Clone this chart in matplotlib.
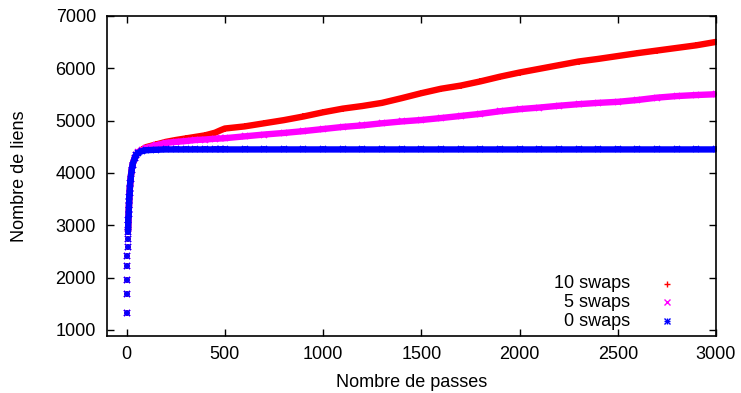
import numpy as np
import matplotlib
matplotlib.use("Agg")
import matplotlib.pyplot as plt

plt.rcParams['font.family'] = ['Liberation Sans', 'DejaVu Sans']

passes = [0, 1, 2, 3, 4, 5, 6, 7, 8, 9, 10, 11, 12, 13, 14, 15, 16, 18, 20, 25, 30, 40, 50, 60, 80,
          100, 150, 200, 250, 300, 350, 400, 450, 480, 500, 600, 700, 800, 900, 1000,
          1100, 1200, 1300, 1400, 1500, 1600, 1700, 1800, 1900, 2000,
          2100, 2200, 2300, 2400, 2500, 2600, 2700, 2800, 2900, 3000]

start = [1320, 1690, 1960, 2230, 2420, 2590, 2740, 2880, 3000, 3110, 3210, 3300, 3390, 3470, 3550,
         3620, 3690, 3800, 3890, 4050, 4160, 4280, 4350, 4390]

swaps10 = start[:-1] + [4400, 4450,
           4495, 4545, 4595, 4630, 4660, 4690, 4720, 4770, 4820, 4850, 4890, 4950, 5010, 5080, 5160,
           5230, 5280, 5340, 5430, 5525, 5610, 5670, 5750, 5840, 5920,
           5990, 6060, 6130, 6180, 6235, 6290, 6340, 6390, 6440, 6505]
swaps5 = start[:-1] + [4400, 4440,
          4480, 4530, 4575, 4595, 4610, 4630, 4640, 4655, 4660, 4665, 4700, 4735, 4765, 4800, 4840,
          4880, 4910, 4950, 4985, 5013, 5050, 5090, 5130, 5180, 5220,
          5250, 5285, 5315, 5340, 5360, 5395, 5440, 5470, 5490, 5505]
swaps0 = start + [4420,
          4435, 4445, 4450, 4450, 4450, 4450, 4450, 4450, 4450, 4450, 4450, 4450, 4450, 4450, 4450,
          4450, 4450, 4450, 4450, 4450, 4450, 4450, 4450, 4450, 4450,
          4450, 4450, 4450, 4450, 4450, 4450, 4450, 4450, 4450, 4450]

labels = ["10 swaps", "5 swaps", "0 swaps"]
colors = ["#ff0000", "#ff00ff", "#0000ff"]
markers = ["+", "x", "+"]

fig = plt.figure(figsize=(7.41, 3.93), dpi=100)
ax = fig.add_axes([0.1444, 0.145, 0.8219, 0.8143])

x = np.array(passes)
for vals, c, m in zip([swaps10, swaps5, swaps0], colors, markers):
    y = np.array(vals)
    # dense band after the first few passes
    ax.plot(x[7:], y[7:], "-", color=c, lw=4.6, solid_capstyle="round")
    ax.plot(x, y, m, color=c, ms=5, mew=1.2, linestyle="none")
    if c == "#0000ff":
        ax.plot(x, y, "x", color=c, ms=5, mew=1.2, linestyle="none")

ax.set_xlim(-100, 3000)
ax.set_ylim(885, 7000)
ax.set_xticks([0, 500, 1000, 1500, 2000, 2500, 3000])
ax.set_yticks([1000, 2000, 3000, 4000, 5000, 6000, 7000])
ax.tick_params(direction="in", length=5, width=1, top=True, right=True, labelsize=13)
ax.tick_params(axis="x", pad=7)
ax.tick_params(axis="y", pad=8)
for s in ax.spines.values():
    s.set_linewidth(1.2)
ax.set_xlabel("Nombre de passes", fontsize=13, labelpad=8)
ax.set_ylabel("Nombre de liens", fontsize=13, labelpad=20)

# legend, gnuplot style: text right aligned, sample on the right
for i, (lab, c, m) in enumerate(zip(labels, colors, markers)):
    ty = 0.164 - i * 0.059
    ax.text(0.859, ty, lab, transform=ax.transAxes, ha="right", va="center", fontsize=13)
    ax.plot([0.92], [ty], m, color=c, ms=4, mew=1, transform=ax.transAxes, clip_on=False)
    if i == 2:
        ax.plot([0.92], [ty], "x", color=c, ms=4, mew=1, transform=ax.transAxes, clip_on=False)

fig.savefig("out.png", dpi=100)
